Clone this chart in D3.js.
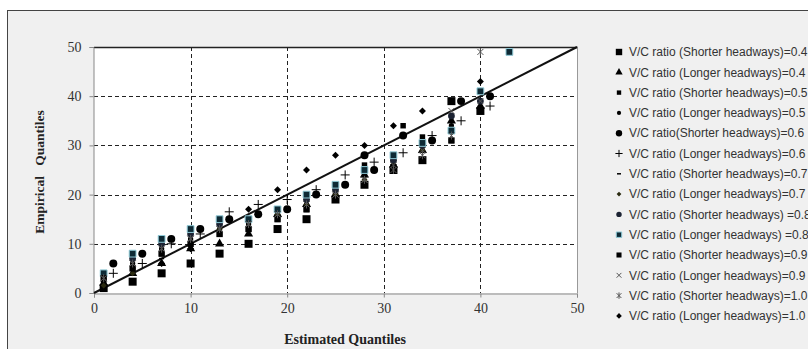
<!DOCTYPE html>
<html>
<head>
<meta charset="utf-8">
<script src="https://cdn.jsdelivr.net/npm/d3@7"></script>
<style>
  html, body { margin: 0; padding: 0; background: #fff; }
  svg { display: block; }
</style>
</head>
<body>
<svg id="chart" width="808" height="349"></svg>
<script>
// ─── Data ──────────────────────────────────────────────────────────
const xTicks = [0, 10, 20, 30, 40, 50];
const yTicks = [0, 10, 20, 30, 40, 50];

const xA = [1, 4, 7, 10, 13, 16, 19, 22, 25, 28, 31, 34, 37, 40];
const xB = [2, 5, 8, 11, 14, 17, 20, 23, 26, 28, 32, 35, 38, 41];
const xC = [2, 5, 8, 11, 14, 17, 20, 23, 26, 29, 32, 35, 38, 41];

const seriesNames = [
  "V/C ratio (Shorter headways)=0.4",
  "V/C ratio (Longer headways)=0.4",
  "V/C ratio (Shorter headways)=0.5",
  "V/C ratio (Longer headways)=0.5",
  "V/C ratio(Shorter headways)=0.6",
  "V/C ratio (Longer headways)=0.6",
  "V/C ratio (Shorter headways)=0.7",
  "V/C ratio (Longer headways)=0.7",
  "V/C ratio (Shorter headways) =0.8",
  "V/C ratio (Longer headways) =0.8",
  "V/C ratio (Shorter headways)=0.9",
  "V/C ratio (Longer headways)=0.9",
  "V/C ratio (Shorter headways)=1.0",
  "V/C ratio (Longer headways)=1.0"
];

const s04Short = [1, 2.3, 4, 6, 8, 10, 13, 15, 19, 22, 25, 27, 39, 37];
const s04Long  = [2, 4, 6, 9, 10, 12, 16, 18, 20, 24, 26, 29, 35, 38];
const s05Short = [2.5, 5, 8, 10, 12, 13, 15, 17, 20, 26, 27, 31.7, 31, 37];
const s05Long  = [3, 6, 9, 11, 13, 14, 16, 19, 21, 24, 27, 30, 34, 39];
const s06Short = [6, 8, 11, 13, 15, 16, 17, 20, 22, 28, 32, 31, 39, 40];
const s06Long  = [4, 6, 10, 12, 16.5, 18, 19, 21, 24, 26.6, 28.5, 32, 35, 38];
const s07Short = [2, 5, 7, 10, 12, 14, 16, 19, 21, 24, 27, 30, 33, 38];
const s07Long  = [1.5, 4, 6, 9, 13, 15, 16, 18, 20, 23, 26, 29, 33, 39];
const s08Short = [4, 7, 10, 12, 14, 15, 17, 19, 21, 25, 27, 30, 36, 39];
const s08Long  = [4, 8, 11, 13, 15, 15, 17, 20, 22, 25, 28, 30.5, 33, 41];
const s09Short = [3, 5, 8, 10, 12, 13, 15, 17, 19, 22, 25.6, 27, 31, 37];
const s09Long  = [3, 6, 9, 11, 13, 14, 16, 18, 20, 23, 26, 29, 37, 39];
const s10Short = [3, 6, 9, 11, 13, 14, 16, 18, 20, 23, 25, 28, 32, 49];
const x10Long  = [7, 10, 16, 19, 22, 25, 28, 31, 34, 40];
const s10Long  = [6, 9, 17, 21, 25, 28, 30, 34, 37, 43];
// a few stray points
const x05ShortExtra = [32];
const s05ShortExtra = [34];
const x08LongExtra = [43];
const s08LongExtra = [49];
const x06ShortExtra = [29];
const s06ShortExtra = [25];

// ─── Layout ────────────────────────────────────────────────────────
const svg = d3.select("#chart");
const plot = { left: 94, right: 577, top: 47, bottom: 293 };

svg.append("rect").attr("width", 808).attr("height", 349).attr("fill", "#fff");
svg.append("rect")
  .attr("x", 7.5).attr("y", 10.5).attr("width", 820).attr("height", 360)
  .attr("fill", "#f0f0f0").attr("stroke", "#444").attr("stroke-width", 1);

const x = d3.scaleLinear().domain([0, 50]).range([plot.left, plot.right]);
const y = d3.scaleLinear().domain([0, 50]).range([plot.bottom, plot.top]);

svg.append("rect")
  .attr("x", plot.left).attr("y", plot.top)
  .attr("width", plot.right - plot.left).attr("height", plot.bottom - plot.top)
  .attr("fill", "#fff");

// grid
const grid = svg.append("g").attr("stroke", "#222").attr("stroke-width", 1).attr("stroke-dasharray", "4 3");
grid.selectAll(".gy").data([10, 20, 30, 40]).join("line")
  .attr("x1", plot.left).attr("x2", plot.right)
  .attr("y1", d => Math.round(y(d)) + 0.5).attr("y2", d => Math.round(y(d)) + 0.5);
grid.selectAll(".gx").data([10, 20, 30, 40]).join("line")
  .attr("y1", plot.top).attr("y2", plot.bottom)
  .attr("x1", d => Math.round(x(d)) + 0.5).attr("x2", d => Math.round(x(d)) + 0.5);

// frame lines
svg.append("line").attr("x1", plot.left).attr("x2", plot.right + 1)
  .attr("y1", plot.top + 0.5).attr("y2", plot.top + 0.5).attr("stroke", "#222").attr("stroke-width", 1.5);
svg.append("line").attr("x1", plot.right + 0.5).attr("x2", plot.right + 0.5)
  .attr("y1", plot.top).attr("y2", plot.bottom).attr("stroke", "#999");

// axes
const fontSerif = "'Liberation Serif', 'DejaVu Serif', serif";
const xAxis = svg.append("g").attr("transform", `translate(0,${plot.bottom + 0.5})`)
  .call(d3.axisBottom(x).tickValues(xTicks).tickSize(4).tickPadding(6));
const yAxis = svg.append("g").attr("transform", `translate(${plot.left - 0.5},0)`)
  .call(d3.axisLeft(y).tickValues(yTicks).tickSize(4).tickPadding(8));
[xAxis, yAxis].forEach(a => {
  a.select(".domain").attr("stroke", "#888");
  a.selectAll(".tick line").attr("stroke", "#888");
  a.selectAll(".tick text").attr("font-family", fontSerif).attr("font-size", 14).attr("fill", "#333");
});

// reference line
svg.append("line")
  .attr("x1", x(0)).attr("y1", y(0)).attr("x2", x(50)).attr("y2", y(50))
  .attr("stroke", "#111").attr("stroke-width", 2);

// ─── Markers ───────────────────────────────────────────────────────
const sym = (type, size) => d3.symbol().type(type).size(size)();
const markers = [
  { path: sym(d3.symbolSquare, 64), fill: "#000" },
  { path: sym(d3.symbolTriangle, 36), fill: "#000" },
  { path: sym(d3.symbolSquare, 30), fill: "#000" },
  { path: sym(d3.symbolCircle, 22), fill: "#000" },
  { path: sym(d3.symbolCircle, 50), fill: "#000" },
  { path: "M-4.5,0H4.5M0,-4.5V4.5", stroke: "#000", fill: "none" },
  { path: "M-2.5,0H2.5", stroke: "#000", fill: "none", sw: 1.5 },
  { path: "M0,-3L3,0L0,3L-3,0Z", fill: "#2a2a10" },
  { path: sym(d3.symbolCircle, 36), fill: "#1c2333" },
  { path: sym(d3.symbolSquare, 46), fill: "#0e2a35", stroke: "#8ec9d6" },
  { path: sym(d3.symbolSquare, 40), fill: "#000" },
  { path: "M-3,-3L3,3M-3,3L3,-3", stroke: "#555", fill: "none" },
  { path: "M-3,-3L3,3M-3,3L3,-3M0,-4V4", stroke: "#555", fill: "none" },
  { path: "M0,-3.5L3.5,0L0,3.5L-3.5,0Z", fill: "#000" }
];

const seriesData = [
  [xA, s04Short], [xA, s04Long], [xA, s05Short], [xA, s05Long],
  [xB, s06Short], [xC, s06Long], [xA, s07Short], [xA, s07Long],
  [xA, s08Short], [xA, s08Long], [xA, s09Short], [xA, s09Long],
  [xA, s10Short], [x10Long, s10Long]
];
const extras = [
  [2, x05ShortExtra, s05ShortExtra],
  [9, x08LongExtra, s08LongExtra],
  [4, x06ShortExtra, s06ShortExtra]
];

function drawMarker(g, i, px, py, k = 1) {
  const m = markers[i];
  g.append("path")
    .attr("d", m.path)
    .attr("transform", `translate(${px},${py}) scale(${k})`)
    .attr("fill", m.fill || "none")
    .attr("stroke", m.stroke || "none")
    .attr("stroke-width", (m.sw || 1) / k);
}

const pts = svg.append("g");
seriesData.forEach(([xs, ys], i) => {
  xs.forEach((xv, k) => drawMarker(pts, i, x(xv), y(ys[k])));
});
extras.forEach(([i, xs, ys]) => xs.forEach((xv, k) => drawMarker(pts, i, x(xv), y(ys[k]))));

// ─── Titles ────────────────────────────────────────────────────────
svg.append("text")
  .attr("x", 345).attr("y", 344)
  .attr("text-anchor", "middle")
  .attr("font-family", fontSerif).attr("font-weight", "bold").attr("font-size", 14).attr("fill", "#222")
  .text("Estimated Quantiles");
svg.append("text")
  .attr("transform", "translate(44,172) rotate(-90)")
  .attr("text-anchor", "middle")
  .attr("font-family", fontSerif).attr("font-weight", "bold").attr("font-size", 13.5).attr("fill", "#222")
  .attr("xml:space", "preserve")
  .text("Empirical   Quantiles");

// ─── Legend ────────────────────────────────────────────────────────
const legend = svg.append("g");
seriesNames.forEach((name, i) => {
  const ly = 52 + i * 20.3;
  drawMarker(legend, i, 619, ly, 0.8);
  legend.append("text")
    .attr("x", 629).attr("y", ly).attr("dy", "0.35em")
    .attr("font-family", "'Liberation Sans', Arial, sans-serif")
    .attr("font-size", 12).attr("fill", "#333")
    .text(name);
});
</script>
</body>
</html>
